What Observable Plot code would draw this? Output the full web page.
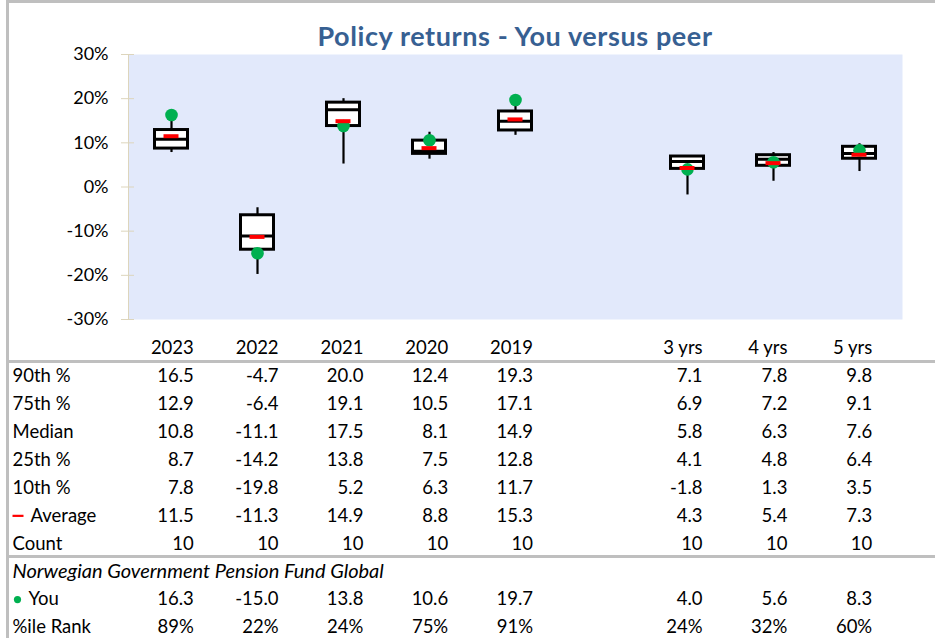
<!DOCTYPE html>
<html><head><meta charset="utf-8">
<script src="https://cdn.jsdelivr.net/npm/d3@7"></script>
<script src="https://cdn.jsdelivr.net/npm/@observablehq/plot@0.6"></script>
<style>
body{margin:0;background:#fff;font-family:Lato,sans-serif;}
#frame{position:relative;width:935px;height:638px;overflow:hidden;background:#fff;}
.line{position:absolute;background:#bfbfbf;}
#title{position:absolute;top:22px;left:128px;width:774px;text-align:center;font-weight:bold;font-size:27px;line-height:27px;letter-spacing:0.6px;color:#376092;font-family:Lato,sans-serif;}
#chart{position:absolute;left:0;top:0;}
#table{position:absolute;left:0;top:334px;}
</style></head>
<body><div id="frame">
<div id="chart"></div><div id="table"></div>
<div id="title">Policy returns - You versus peer</div>
<div class="line" style="left:6px;top:0;width:3px;height:638px"></div>
<div class="line" style="left:6px;top:0;width:929px;height:3px"></div>
<div class="line" style="left:6px;top:360px;width:929px;height:3px"></div>
<div class="line" style="left:6px;top:555px;width:929px;height:3px"></div>
</div>
<script>
// ---- data ----
const categories = ["2023","2022","2021","2020","2019"," ","3 yrs","4 yrs","5 yrs"];
const p90     = [16.5, -4.7, 20.0, 12.4, 19.3, null, 7.1, 7.8, 9.8];
const p75     = [12.9, -6.4, 19.1, 10.5, 17.1, null, 6.9, 7.2, 9.1];
const median  = [10.8, -11.1, 17.5, 8.1, 14.9, null, 5.8, 6.3, 7.6];
const p25     = [8.7, -14.2, 13.8, 7.5, 12.8, null, 4.1, 4.8, 6.4];
const p10     = [7.8, -19.8, 5.2, 6.3, 11.7, null, -1.8, 1.3, 3.5];
const average = [11.5, -11.3, 14.9, 8.8, 15.3, null, 4.3, 5.4, 7.3];
const count   = [10, 10, 10, 10, 10, null, 10, 10, 10];
const you     = [16.3, -15.0, 13.8, 10.6, 19.7, null, 4.0, 5.6, 8.3];
const rank    = ["89%","22%","24%","75%","91%", null, "24%","32%","60%"];
const yTicks  = [-30, -20, -10, 0, 10, 20, 30];
const fundName = "Norwegian Government Pension Fund Global";

// ---- main chart ----
const boxes = categories.map((c, i) => ({cat: c, p90: p90[i], p75: p75[i], median: median[i], p25: p25[i], p10: p10[i], average: average[i], you: you[i]}))
  .filter(d => d.p90 != null);

const chart = Plot.plot({
  width: 935, height: 330,
  marginLeft: 128, marginRight: 33, marginTop: 54, marginBottom: 11,
  style: {background: "transparent", fontFamily: "Lato, sans-serif", fontSize: "17.5px", color: "#000"},
  x: {type: "band", domain: categories, padding: 0, round: false, axis: null},
  y: {domain: [-30, 30]},
  marks: [
    Plot.frame({fill: "#e2e9fb", stroke: null}),
    Plot.frame({anchor: "left", stroke: "#ddd5bc"}),
    Plot.axisY({ticks: yTicks, tickFormat: d => d + "%", tickSize: 13, dx: 6, tickPadding: 13, stroke: "#ddd5bc", fill: "#000", label: null, fontSize: 18}),
    Plot.ruleX(boxes, {x: "cat", y1: "p10", y2: "p90", stroke: "#000", strokeWidth: 2.2}),
    Plot.barY(boxes, {x: "cat", y1: "p25", y2: "p75", fill: "#fff", stroke: "#000", strokeWidth: 3, insetLeft: 26.5, insetRight: 26.5}),
    Plot.tickY(boxes, {x: "cat", y: "median", stroke: "#000", strokeWidth: 3, insetLeft: 26.5, insetRight: 26.5}),
    Plot.dot(boxes, {x: "cat", y: "you", r: 6.3, fill: "#00b050", stroke: null}),
    Plot.tickY(boxes, {x: "cat", y: "average", stroke: "#ff0000", strokeWidth: 4, insetLeft: 35.5, insetRight: 35.5})
  ]
});
document.getElementById("chart").append(chart);

// ---- table ----
const f1 = d => d == null ? null : d.toFixed(1);
const tableRows = [
  {row: "head", label: "", values: categories.map(c => c.trim() || null)},
  {row: "p90", label: "90th %", values: p90.map(f1)},
  {row: "p75", label: "75th %", values: p75.map(f1)},
  {row: "median", label: "Median", values: median.map(f1)},
  {row: "p25", label: "25th %", values: p25.map(f1)},
  {row: "p10", label: "10th %", values: p10.map(f1)},
  {row: "avg", label: "Average", values: average.map(f1)},
  {row: "count", label: "Count", values: count.map(d => d == null ? null : String(d))},
  {row: "fund", label: fundName, values: categories.map(() => null)},
  {row: "you", label: "You", values: you.map(f1)},
  {row: "rank", label: "%ile Rank", values: rank}
];
const cells = [];
tableRows.forEach(r => r.values.forEach((v, i) => { if (v != null) cells.push({row: r.row, cat: categories[i], text: v}); }));
const plainLabels = tableRows.filter(r => !["avg", "you", "fund"].includes(r.row));
const dashSymbol = {draw(ctx, size) { ctx.moveTo(-5.5, 0); ctx.lineTo(5.5, 0); }};

const table = Plot.plot({
  width: 935, height: 304,
  marginLeft: 0, marginRight: 0, marginTop: 0, marginBottom: 0,
  style: {background: "transparent", fontFamily: "Lato, sans-serif", fontSize: "18.5px", color: "#000"},
  x: {type: "band", domain: categories, range: [128.9, 892.1], padding: 0, round: false, axis: null},
  y: {type: "band", domain: tableRows.map(r => r.row), range: [0, 306.9], padding: 0, round: false, axis: null},
  marks: [
    Plot.text(cells, {x: "cat", y: "row", text: "text", textAnchor: "end", dx: 22, fill: "#000"}),
    Plot.text(plainLabels, {y: "row", text: "label", frameAnchor: "left", dx: 12, fill: "#000"}),
    Plot.text(tableRows.filter(r => r.row === "fund"), {y: "row", text: "label", frameAnchor: "left", dx: 12, fill: "#000", fontStyle: "italic", fontSize: 20}),
    Plot.text(tableRows.filter(r => r.row === "avg"), {y: "row", text: "label", frameAnchor: "left", dx: 30, fill: "#000"}),
    Plot.text(tableRows.filter(r => r.row === "you"), {y: "row", text: "label", frameAnchor: "left", dx: 28, fill: "#000"}),
    Plot.dot(tableRows.filter(r => r.row === "avg"), {y: "row", frameAnchor: "left", dx: 17.5, symbol: dashSymbol, stroke: "#ff0000", strokeWidth: 2.2, fill: "none"}),
    Plot.dot(tableRows.filter(r => r.row === "you"), {y: "row", frameAnchor: "left", dx: 17, r: 3.6, fill: "#00b050", stroke: null})
  ]
});
document.getElementById("table").append(table);
</script>
</body></html>
